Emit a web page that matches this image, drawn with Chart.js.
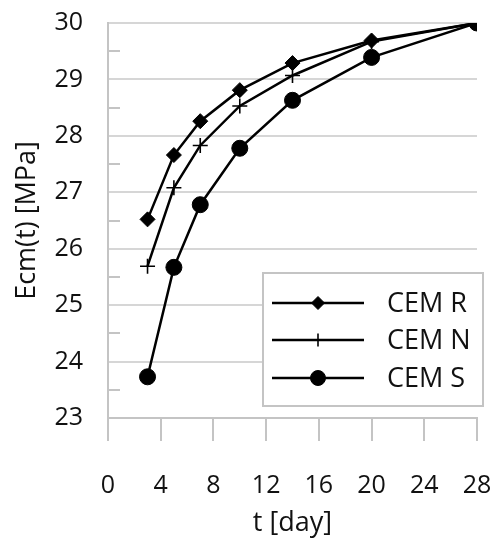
<!DOCTYPE html>
<html>
<head>
<meta charset="utf-8">
<script src="https://cdn.jsdelivr.net/npm/chart.js@4.4.0/dist/chart.umd.min.js"></script>
<style>
  html, body { margin: 0; padding: 0; background: #fff; }
  #wrap { width: 492px; height: 538px; }
</style>
</head>
<body>
<div id="wrap"><canvas id="ecm"></canvas></div>
<script>
// values
const days = [3, 5, 7, 10, 14, 20, 28]
const cemR = [26.52, 27.66, 28.26, 28.81, 29.29, 29.69, 30]
const cemN = [25.69, 27.08, 27.83, 28.53, 29.07, 29.67, 30]
const cemS = [23.73, 25.67, 26.78, 27.78, 28.63, 29.39, 30]
const seriesNames = ['CEM R', 'CEM N', 'CEM S']
const xTicks = { min: 0, max: 28, step: 4 }
const yTicks = { min: 23, max: 30, step: 1 }

const FONT = "'Open Sans', 'DejaVu Sans', sans-serif"
const TEXT = '#111'

const pts = (ys) => days.map((d, i) => ({ x: d, y: ys[i] }))

const markers = [
    { pointStyle: 'rectRot', radius: 7.5, borderWidth: 1, legendRadius: 6.5 },
    { pointStyle: 'cross', radius: 7.5, borderWidth: 1.6, legendRadius: 6.5 },
    { pointStyle: 'circle', radius: 8, borderWidth: 1, legendRadius: 7.5 }
]

function drawMarker(ctx, m, x, y, r) {
    if (Chart.helpers && Chart.helpers.drawPoint) {
        ctx.fillStyle = '#000'
        ctx.strokeStyle = '#000'
        ctx.lineWidth = m.borderWidth
        Chart.helpers.drawPoint(ctx, { pointStyle: m.pointStyle, radius: r, rotation: 0, borderWidth: m.borderWidth }, x, y)
    }
}

// minor ticks at half steps on the y axis, drawn inside the plot
const minorTicks = {
    id: 'minorTicks',
    beforeDatasetsDraw(chart) {
        const { ctx, scales: { y }, chartArea } = chart
        ctx.save()
        ctx.strokeStyle = '#c4c4c4'
        ctx.lineWidth = 2
        for (let v = yTicks.min + 0.5; v < yTicks.max; v += 1) {
            const py = Math.round(y.getPixelForValue(v))
            ctx.beginPath()
            ctx.moveTo(chartArea.left, py)
            ctx.lineTo(chartArea.left + 12, py)
            ctx.stroke()
        }
        ctx.restore()
    }
}

// legend as in the picture: line - marker - line, with a boxed frame
const boxLegend = {
    id: 'boxLegend',
    afterDraw(chart) {
        const { ctx } = chart
        const bx = 263, by = 273, bw = 220, bh = 133
        ctx.save()
        ctx.fillStyle = '#fff'
        ctx.fillRect(bx, by, bw, bh)
        ctx.strokeStyle = '#c4c4c4'
        ctx.lineWidth = 2
        ctx.strokeRect(bx, by, bw, bh)
        const rows = [303, 340, 378]
        seriesNames.forEach((name, i) => {
            const yy = rows[i]
            ctx.strokeStyle = '#000'
            ctx.lineWidth = 2.5
            ctx.beginPath()
            ctx.moveTo(272, yy)
            ctx.lineTo(364, yy)
            ctx.stroke()
            drawMarker(ctx, markers[i], 318, yy, markers[i].legendRadius)
            ctx.fillStyle = TEXT
            ctx.font = '27px ' + FONT
            ctx.textAlign = 'left'
            ctx.textBaseline = 'middle'
            ctx.fillText(name, 387, yy + 1)
        })
        ctx.restore()
    }
}

const datasets = [cemR, cemN, cemS].map((ys, i) => ({
    label: seriesNames[i],
    data: pts(ys),
    borderColor: '#000',
    backgroundColor: '#000',
    borderWidth: 2.5,
    pointStyle: markers[i].pointStyle,
    pointRadius: markers[i].radius,
    pointBorderWidth: markers[i].borderWidth,
    pointBackgroundColor: '#000',
    pointBorderColor: '#000',
    tension: 0
}))

new Chart(document.getElementById('ecm'), {
    type: 'line',
    data: { datasets: datasets },
    options: {
        responsive: true,
        maintainAspectRatio: false,
        animation: false,
        layout: { padding: { top: 23, right: 15, left: 0, bottom: 0 } },
        plugins: {
            legend: { display: false },
            tooltip: { enabled: false }
        },
        scales: {
            x: {
                type: 'linear',
                min: xTicks.min,
                max: xTicks.max,
                ticks: {
                    stepSize: xTicks.step,
                    color: TEXT,
                    font: { family: FONT, size: 25 },
                    padding: 30,
                    maxRotation: 0
                },
                grid: {
                    drawOnChartArea: false,
                    drawTicks: true,
                    tickLength: 23,
                    color: '#c4c4c4',
                    lineWidth: 2
                },
                border: { display: true, color: '#c4c4c4', width: 2 },
                title: {
                    display: true,
                    text: 't [day]',
                    color: TEXT,
                    font: { family: FONT, size: 27 },
                    padding: { top: 0, bottom: -2 }
                },
                afterFit: (s) => {
                    s.height = 120
                    s.paddingLeft = 0
                    s.paddingRight = 0
                }
            },
            y: {
                min: yTicks.min,
                max: yTicks.max,
                ticks: {
                    stepSize: yTicks.step,
                    color: TEXT,
                    font: { family: FONT, size: 25 },
                    padding: 25
                },
                grid: {
                    drawTicks: false,
                    color: '#d6d6d6',
                    lineWidth: 2
                },
                border: { display: true, color: '#c4c4c4', width: 2 },
                title: {
                    display: true,
                    text: 'Ecm(t) [MPa]',
                    color: TEXT,
                    font: { family: FONT, size: 27 },
                    padding: { top: 11, bottom: 0 }
                },
                afterFit: (s) => {
                    s.width = 108
                    s.paddingTop = 0
                    s.paddingBottom = 0
                }
            }
        }
    },
    plugins: [minorTicks, boxLegend]
})
</script>
</body>
</html>
